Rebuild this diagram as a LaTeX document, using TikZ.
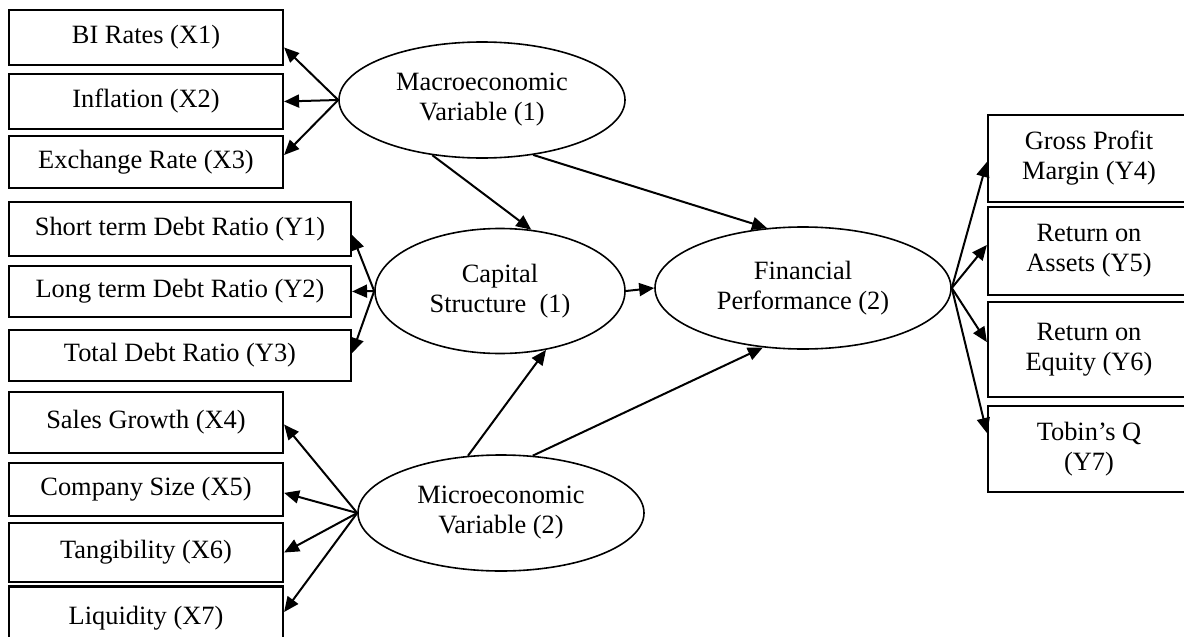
\documentclass[tikz,border=0pt]{standalone}
\usepackage{fontspec}
\setmainfont{Liberation Serif}
\usetikzlibrary{shapes.geometric,arrows.meta}
\begin{document}
\begin{tikzpicture}[x=0.5pt,y=-0.5pt,>={Triangle[length=7.5pt,width=6.5pt]},
	font=\fontsize{13.2}{15}\selectfont,
	ind/.style={draw,line width=1.1pt,inner sep=0pt,align=center},
	lat/.style={draw,ellipse,line width=0.8pt,inner sep=0pt,align=center},
	arr/.style={->,line width=1pt}]
	\useasboundingbox (0,0) rectangle (1184,637);
	\clip (0,0) rectangle (1184,637);
	\node[ind,minimum width=137pt,minimum height=27.5pt] (x1) at (146,37.5) {BI Rates (X1)};
	\node[ind,minimum width=137pt,minimum height=27.5pt] (x2) at (146,101.5) {Inflation (X2)};
	\node[ind,minimum width=137pt,minimum height=26pt] (x3) at (146,162) {Exchange Rate (X3)};
	\node[ind,minimum width=171pt,minimum height=27pt] (y1) at (180,229) {Short term Debt Ratio (Y1)};
	\node[ind,minimum width=171pt,minimum height=25.5pt] (y2) at (180,291.5) {Long term Debt Ratio (Y2)};
	\node[ind,minimum width=171pt,minimum height=25.5pt] (y3) at (180,355.5) {Total Debt Ratio (Y3)};
	\node[ind,minimum width=137pt,minimum height=30.5pt] (x4) at (146,422.5) {Sales Growth (X4)};
	\node[ind,minimum width=137pt,minimum height=26.5pt] (x5) at (146,489.5) {Company Size (X5)};
	\node[ind,minimum width=137pt,minimum height=29.5pt] (x6) at (146,552.5) {Tangibility (X6)};
	\node[ind,minimum width=137pt,minimum height=31.5pt] (x7) at (146,618) {Liquidity (X7)};
	\node[ind,minimum width=101pt,minimum height=43.5pt] (y4) at (1089,158.5) {Gross Profit\\Margin (Y4)};
	\node[ind,minimum width=101pt,minimum height=44pt] (y5) at (1089,251) {Return on\\Assets (Y5)};
	\node[ind,minimum width=101pt,minimum height=47.5pt] (y6) at (1089,349.5) {Return on\\Equity (Y6)};
	\node[ind,minimum width=101pt,minimum height=43pt] (y7) at (1089,449) {Tobin’s Q\\(Y7)};
	\node[lat,minimum width=143pt,minimum height=58pt] (macro) at (482,100) {Macroeconomic\\Variable (1)};
	\node[lat,minimum width=125pt,minimum height=62.5pt] (cap) at (500,291) {Capital\\Structure\ \ (1)};
	\node[lat,minimum width=148pt,minimum height=61pt] (fin) at (803,288) {Financial\\Performance (2)};
	\node[lat,minimum width=143pt,minimum height=58pt] (micro) at (501,513) {Microeconomic\\Variable (2)};
	\draw[arr] (macro.west) -- ([yshift=-5pt]x1.east);
	\draw[arr] (macro.west) -- (x2.east);
	\draw[arr] (macro.west) -- ([yshift=3.5pt]x3.east);
	\draw[arr] (cap.west) -- ([yshift=-3pt]y1.east);
	\draw[arr] (cap.west) -- (y2.east);
	\draw[arr] (cap.west) -- ([yshift=1.2pt]y3.east);
	\draw[arr] (micro.west) -- ([yshift=-1pt]x4.east);
	\draw[arr] (micro.west) -- ([yshift=-1.7pt]x5.east);
	\draw[arr] (micro.west) -- (x6.east);
	\draw[arr] (micro.west) -- ([yshift=3pt]x7.east);
	\draw[arr] (fin.east) -- ([yshift=-1.7pt]y4.west);
	\draw[arr] (fin.east) -- ([yshift=3pt]y5.west);
	\draw[arr] (fin.east) -- ([yshift=3.7pt]y6.west);
	\draw[arr] (fin.east) -- ([yshift=8pt]y7.west);
	\draw[arr] (macro.228) -- (cap.63);
	\draw[arr] (macro.-47) -- (fin.121);
	\draw[arr] (cap.east) -- (fin.west);
	\draw[arr] (micro.120) -- (cap.-52);
	\draw[arr] (micro.61) -- (fin.236);
\end{tikzpicture}
\end{document}
